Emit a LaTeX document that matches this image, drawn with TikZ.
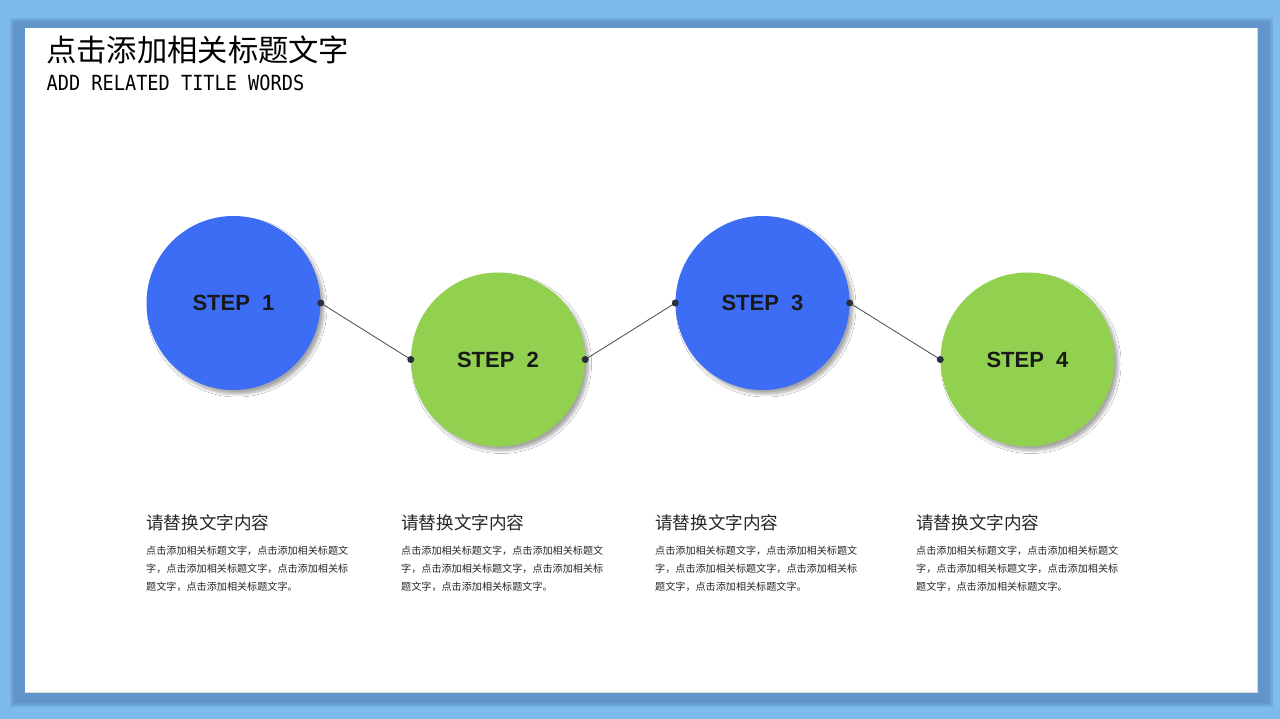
\documentclass[tikz,border=0pt]{standalone}
\usepackage{fontspec}
\setmainfont{Liberation Sans}
\newfontfamily\cjk{Noto Sans CJK SC}
\newfontfamily\monofont{DejaVu Sans Mono}
\usetikzlibrary{shadows,shadows.blur}
\definecolor{bgblue}{HTML}{7DBBEE}
\definecolor{shblue}{HTML}{5F90C4}
\definecolor{stepblue}{HTML}{3D6CF5}
\definecolor{stepgreen}{HTML}{92D050}
\definecolor{dotc}{HTML}{2B2F3A}
\tikzset{
  stepcircle/.style={circle, minimum size=174pt, inner sep=0pt,
    font=\fontsize{22}{22}\selectfont\bfseries, text=black!90,
    blur shadow={shadow xshift=3.5pt, shadow yshift=-4pt, shadow blur steps=8, shadow blur radius=3pt, shadow opacity=35}},
  bluestep/.style={stepcircle, fill=stepblue},
  greenstep/.style={stepcircle, fill=stepgreen},
  link/.style={draw=dotc!80, line width=0.9pt},
  dotmark/.style={circle, fill=dotc, inner sep=0pt, minimum size=7pt},
  headtxt/.style={anchor=west, inner sep=0pt, font=\cjk\fontsize{17.6}{17.6}\selectfont, text=black!85},
  bodytxt/.style={anchor=north west, inner sep=0pt, align=left, font=\cjk\fontsize{10.1}{18}\selectfont, text=black!85},
}
\begin{document}
\begin{tikzpicture}[x=1pt, y=-1pt]
\useasboundingbox (0,0) rectangle (1280,719);
\fill[bgblue] (0,0) rectangle (1280,719);
% panel shadow
\fill[shblue, opacity=0.35] (10,18) rectangle (1273,707);
\fill[shblue, opacity=0.5] (12,20) rectangle (1271,705);
\fill[shblue, opacity=0.6] (14,22) rectangle (1269,703);
\fill[white] (25,28) rectangle (1257,692);
\draw[black!15, line width=0.6pt] (25,692) -- (1257,692) -- (1257,28);

% title
\node[anchor=west, inner sep=0pt, font=\cjk\fontsize{30.3}{30.3}\selectfont] (title) at (46,50) {点击添加相关标题文字};
\node[anchor=west, inner sep=0pt, font=\monofont\fontsize{18.6}{18.6}\selectfont] (subtitle) at (46.5,83) {\scalebox{1}[1.12]{ADD RELATED TITLE WORDS}};

% steps
\node[bluestep] (s1) at (233.5,303) {STEP\ \ 1};
\node[greenstep] (s2) at (498,359.5) {STEP\ \ 2};
\node[bluestep] (s3) at (762.5,303) {STEP\ \ 3};
\node[greenstep] (s4) at (1027.5,359.5) {STEP\ \ 4};

\draw[link] (s1.east) -- (s2.west);
\draw[link] (s2.east) -- (s3.west);
\draw[link] (s3.east) -- (s4.west);
\node[dotmark] (d1) at (s1.east) {};
\node[dotmark] (d2) at (s2.west) {};
\node[dotmark] (d3) at (s2.east) {};
\node[dotmark] (d4) at (s3.west) {};
\node[dotmark] (d5) at (s3.east) {};
\node[dotmark] (d6) at (s4.west) {};

% texts
\foreach \x/\i in {146/1,401/2,655/3,916/4}{
  \node[headtxt] (h\i) at (\x,523) {请替换文字内容};
  \node[bodytxt] (b\i) at (\x,546) {点击添加相关标题文字，点击添加相关标题文\\字，点击添加相关标题文字，点击添加相关标\\题文字，点击添加相关标题文字。};
}
\end{tikzpicture}
\end{document}
